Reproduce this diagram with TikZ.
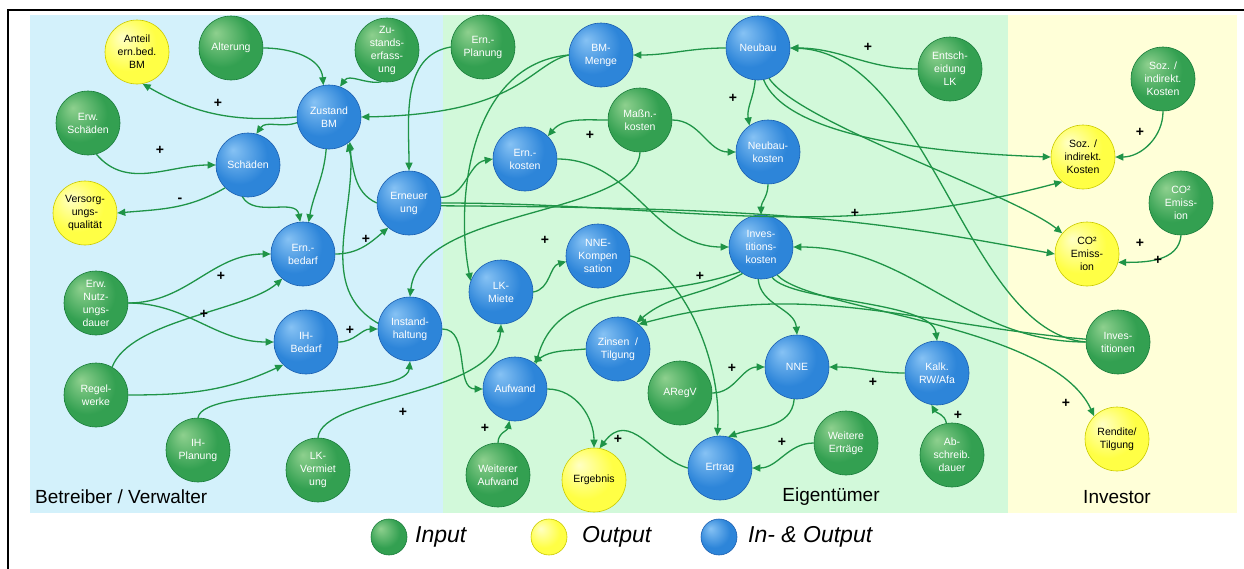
\documentclass[tikz,border=0pt]{standalone}
\usepackage{fontspec}
\setmainfont{Liberation Sans}
\usetikzlibrary{arrows.meta,positioning}
\definecolor{grL}{HTML}{8ED08E}
\definecolor{grM}{HTML}{33A051}
\definecolor{grD}{HTML}{1A7D3B}
\definecolor{blL}{HTML}{86C2F4}
\definecolor{blM}{HTML}{2D85D9}
\definecolor{blD}{HTML}{1B5FB0}
\definecolor{yeL}{HTML}{FFFFC4}
\definecolor{yeM}{HTML}{FFFF45}
\definecolor{yeD}{HTML}{ECEC00}
\definecolor{edge}{HTML}{1F9447}
\definecolor{panB}{HTML}{D3F1FB}
\definecolor{panG}{HTML}{D2F9DA}
\definecolor{panY}{HTML}{FFFFD8}
\pgfdeclareradialshading{grball}{\pgfpoint{-12bp}{12bp}}{color(0bp)=(grL);color(22bp)=(grM);color(38bp)=(grM);color(52bp)=(grD)}
\pgfdeclareradialshading{blball}{\pgfpoint{-12bp}{12bp}}{color(0bp)=(blL);color(22bp)=(blM);color(38bp)=(blM);color(52bp)=(blD)}
\pgfdeclareradialshading{yeball}{\pgfpoint{-12bp}{12bp}}{color(0bp)=(yeL);color(22bp)=(yeM);color(40bp)=(yeM);color(52bp)=(yeD)}

\begin{document}
\begin{tikzpicture}[x=1pt, y=-1pt,
	knot/.style={circle, minimum size=64pt, inner sep=0pt, align=center,
		font=\fontsize{10.5}{13}\selectfont, line width=0.6pt},
	inp/.style={knot, shading=grball, draw=grD, text=white},
	io/.style={knot, shading=blball, draw=blD, text=white},
	outp/.style={knot, shading=yeball, draw=yeD!85!black, text=black},
	conn/.style={draw=edge, line width=1.3pt, -{Triangle[length=8pt,width=7pt]}},
	pl/.style={font=\fontsize{14}{14}\selectfont\bfseries, inner sep=0pt},
	sec/.style={font=\fontsize{19}{19}\selectfont, inner sep=0pt},
	leg/.style={font=\fontsize{23}{23}\selectfont\itshape, inner sep=0pt, anchor=west}]
	\useasboundingbox (0,0) rectangle (1244,568);
	\fill[white] (0,0) rectangle (1244,568);
	\fill[panB] (30,15) rectangle (443,513);
	\fill[panG] (443,15) rectangle (1008,513);
	\fill[panY] (1008,15) rectangle (1237,513);
	\draw[line width=2pt] (8,580) -- (8,10) -- (1250,10);

	\node[outp] (anteil) at (137,52) {Anteil\\ern.bed.\\BM};
	\node[inp] (alter) at (231,48) {Alterung};
	\node[inp] (zerf) at (387,50) {Zu-\\stands-\\erfass-\\ung};
	\node[inp] (erws) at (88,123) {Erw.\\Schäden};
	\node[io] (zbm) at (329,117) {Zustand\\BM};
	\node[io] (sch) at (248,165) {Schäden};
	\node[outp] (vers) at (85,213) {Versorg-\\ungs-\\qualität};
	\node[io] (ern) at (409,203) {Erneuer\\ung};
	\node[io] (ernb) at (303,254) {Ern.-\\bedarf};
	\node[inp] (enu) at (96,303) {Erw.\\Nutz-\\ungs-\\dauer};
	\node[io] (ihb) at (306,342) {IH-\\Bedarf};
	\node[io] (ih) at (410,329) {Instand-\\haltung};
	\node[inp] (reg) at (96,395) {Regel-\\werke};
	\node[inp] (ihp) at (198,450) {IH-\\Planung};
	\node[inp] (lkv) at (318,470) {LK-\\Vermiet\\ung};

	\node[inp] (ernp) at (483,47) {Ern.-\\Planung};
	\node[io] (bmm) at (601,55) {BM-\\Menge};
	\node[io] (nb) at (758,48) {Neubau};
	\node[inp] (massk) at (640,120) {Maßn.-\\kosten};
	\node[io] (ernk) at (525,159) {Ern.-\\kosten};
	\node[io] (nbk) at (768,152) {Neubau-\\kosten};
	\node[io] (ik) at (761,247) {Inves-\\titions-\\kosten};
	\node[io] (nnek) at (598,256) {NNE-\\Kompen\\sation};
	\node[io] (lkm) at (501,292) {LK-\\Miete};
	\node[io] (zt) at (618,349) {Zinsen\ \ /\\Tilgung};
	\node[io] (au) at (515,389) {Aufwand};
	\node[inp] (areg) at (680,393) {ARegV};
	\node[io] (nne) at (797,367) {NNE};
	\node[inp] (wa) at (498,475) {Weiterer\\Aufwand};
	\node[outp] (erg) at (594,480) {Ergebnis};
	\node[io] (ert) at (720,468) {Ertrag};
	\node[inp] (we) at (846,443) {Weitere\\Erträge};
	\node[io] (kalk) at (937,373) {Kalk.\\RW/Afa};
	\node[inp] (absd) at (952,455) {Ab-\\schreib.\\dauer};
	\node[inp] (ent) at (950,69) {Entsch-\\eidung\\LK};

	\node[inp] (sozi) at (1163,79) {Soz. /\\indirekt.\\Kosten};
	\node[outp] (sozo) at (1083,157) {Soz. /\\indirekt.\\Kosten};
	\node[inp] (co2i) at (1181,203) {CO²\\Emiss-\\ion};
	\node[outp] (co2o) at (1087,254) {CO²\\Emiss-\\ion};
	\node[inp] (inv) at (1118,342) {Inves-\\titionen};
	\node[outp] (ren) at (1117,439) {Rendite/\\Tilgung};

	\node[sec, anchor=west] (lbv) at (35,497) {Betreiber / Verwalter};
	\node[sec] (lei) at (831,497) {Eigentümer};
	\node[sec] (linv) at (1117,497) {Investor};

	\draw[conn] (alter.east) to[out=0,in=95] (zbm.100);
	\draw[conn] (zerf.-100) to[out=190,in=55] (zbm.70);
	\draw[conn] (zbm.west) to[out=185,in=-30] (anteil.-80);
	\draw[conn] (zbm.190) to[out=200,in=55] (sch.75);
	\draw[conn] (erws.-75) to[out=-50,in=180] (sch.west);
	\draw[conn] (sch.-135) to[out=-150,in=5] (vers.east);
	\draw[conn] (sch.-100) to[out=-60,in=100] (ernb.95);
	\draw[conn] (zbm.-95) to[out=-95,in=80] (ernb.80);
	\draw[conn] (ernb.east) to[out=0,in=-140] (ern.-130);
	\draw[conn] (ern.west) to[out=155,in=-75] (zbm.-55);
	\draw[conn] (ih.170) to[out=150,in=-85] (zbm.-50);
	\draw[conn] (enu.east) to[out=0,in=180] (ernb.west);
	\draw[conn] (enu.east) to[out=0,in=180] (ihb.west);
	\draw[conn] (reg.60) .. controls +(18,-47) and +(-36,32) .. (ernb.-130);
	\draw[conn] (reg.east) to[out=0,in=-155] (ihb.-135);
	\draw[conn] (ihb.east) to[out=0,in=180] (ih.west);
	\draw[conn] (ihp.north) .. controls +(5,-33) and +(-4,39) .. (ih.south);
	\draw[conn] (lkv.north) .. controls +(4,-43) and +(-5,73) .. (lkm.south);

	\draw[conn] (ernp.west) to[out=190,in=90] (ern.north);
	\draw[conn] (bmm.west) .. controls +(-40,10) and +(160,-3) .. (zbm.east);
	\draw[conn] (bmm.west) .. controls +(-99,9) and +(-16,-81) .. (lkm.160);
	\draw[conn] (ern.10) to[out=0,in=190] (ernk.west);
	\draw[conn] (ern.east) to[out=0,in=195] (sozo.-130);
	\draw[conn] (ern.-5) .. controls +(359,2) and +(-175,-32) .. (co2o.west);
	\draw[conn] (massk.west) to[out=180,in=50] (ernk.45);
	\draw[conn] (massk.east) to[out=0,in=180] (nbk.west);
	\draw[conn] (massk.south) .. controls +(-4,65) and +(10,-90) .. (ih.north);
	\draw[conn] (ernk.east) to[out=0,in=180] (ik.west);
	\draw[conn] (nb.west) to[out=180,in=0] (bmm.east);
	\draw[conn] (ent.west) to[out=180,in=0] (nb.east);
	\draw[conn] (inv.west) .. controls +(-120,-10) and +(140,5) .. (nb.east);
	\draw[conn] (nb.-95) to[out=-95,in=100] (nbk.125);
	\draw[conn] (nb.-80) .. controls +(20,50) and +(-150,-5) .. (sozo.west);
	\draw[conn] (nb.-70) .. controls +(30,45) and +(-50,-40) .. (co2o.140);
	\draw[conn] (nbk.south) to[out=-90,in=90] (ik.north);
	\draw[conn] (inv.west) to[out=180,in=0] (ik.east);
	\draw[conn] (inv.175) to[out=175,in=15] (zt.50);
	\draw[conn] (ik.-130) to[out=-160,in=75] (au.50);
	\draw[conn] (ik.-125) to[out=-150,in=40] (zt.55);
	\draw[conn] (ik.-95) to[out=-85,in=95] (nne.north);
	\draw[conn] (ik.-70) .. controls +(20,25) and +(-5,-40) .. (kalk.north);
	\draw[conn] (ik.-60) .. controls +(33,36) and +(-43,-93) .. (ren.135);
	\draw[conn] (lkm.east) to[out=10,in=195] (nnek.190);
	\draw[conn] (nnek.east) .. controls +(50,9) and +(5,-76) .. (ert.95);
	\draw[conn] (ih.east) to[out=0,in=180] (au.west);
	\draw[conn] (zt.west) to[out=185,in=35] (au.55);
	\draw[conn] (wa.north) to[out=90,in=-100] (au.-100);
	\draw[conn] (au.east) to[out=0,in=90] (erg.north);
	\draw[conn] (ert.west) .. controls +(-35,-10) and +(30,-40) .. (erg.80);
	\draw[conn] (areg.east) to[out=0,in=180] (nne.west);
	\draw[conn] (nne.-95) to[out=-95,in=20] (ert.75);
	\draw[conn] (we.west) to[out=180,in=0] (ert.east);
	\draw[conn] (kalk.west) to[out=180,in=0] (nne.east);
	\draw[conn] (absd.100) to[out=100,in=-60] (kalk.-100);
	\draw[conn] (sozi.south) to[out=-90,in=0] (sozo.east);
	\draw[conn] (co2i.south) to[out=-95,in=0] (co2o.-15);

	\node[pl] (p1) at (218,103) {+};
	\node[pl] (p2) at (160,150) {+};
	\node[pl] (m1) at (180,200) {-};
	\node[pl] (p3) at (366,239) {+};
	\node[pl] (p4) at (221,276) {+};
	\node[pl] (p5) at (204,314) {+};
	\node[pl] (p6) at (350,330) {+};
	\node[pl] (p7) at (403,412) {+};
	\node[pl] (p8) at (590,135) {+};
	\node[pl] (p9) at (733,98) {+};
	\node[pl] (p10) at (545,240) {+};
	\node[pl] (p11) at (700,276) {+};
	\node[pl] (p12) at (868,47) {+};
	\node[pl] (p13) at (1140,132) {+};
	\node[pl] (p14) at (855,213) {+};
	\node[pl] (p15) at (1140,243) {+};
	\node[pl] (p16) at (1158,260) {+};
	\node[pl] (p17) at (873,382) {+};
	\node[pl] (p18) at (958,415) {+};
	\node[pl] (p19) at (1066,403) {+};
	\node[pl] (p20) at (732,368) {+};
	\node[pl] (p21) at (485,428) {+};
	\node[pl] (p22) at (618,439) {+};
	\node[pl] (p23) at (782,442) {+};

	\node[inp, minimum size=36pt] (lgi) at (389,537) {};
	\node[leg] (lgit) at (415,537) {Input};
	\node[outp, minimum size=36pt] (lgo) at (549,537) {};
	\node[leg] (lgot) at (582,537) {Output};
	\node[io, minimum size=36pt] (lgb) at (719,537) {};
	\node[leg] (lgbt) at (748,537) {In- \& Output};
\end{tikzpicture}
\end{document}
